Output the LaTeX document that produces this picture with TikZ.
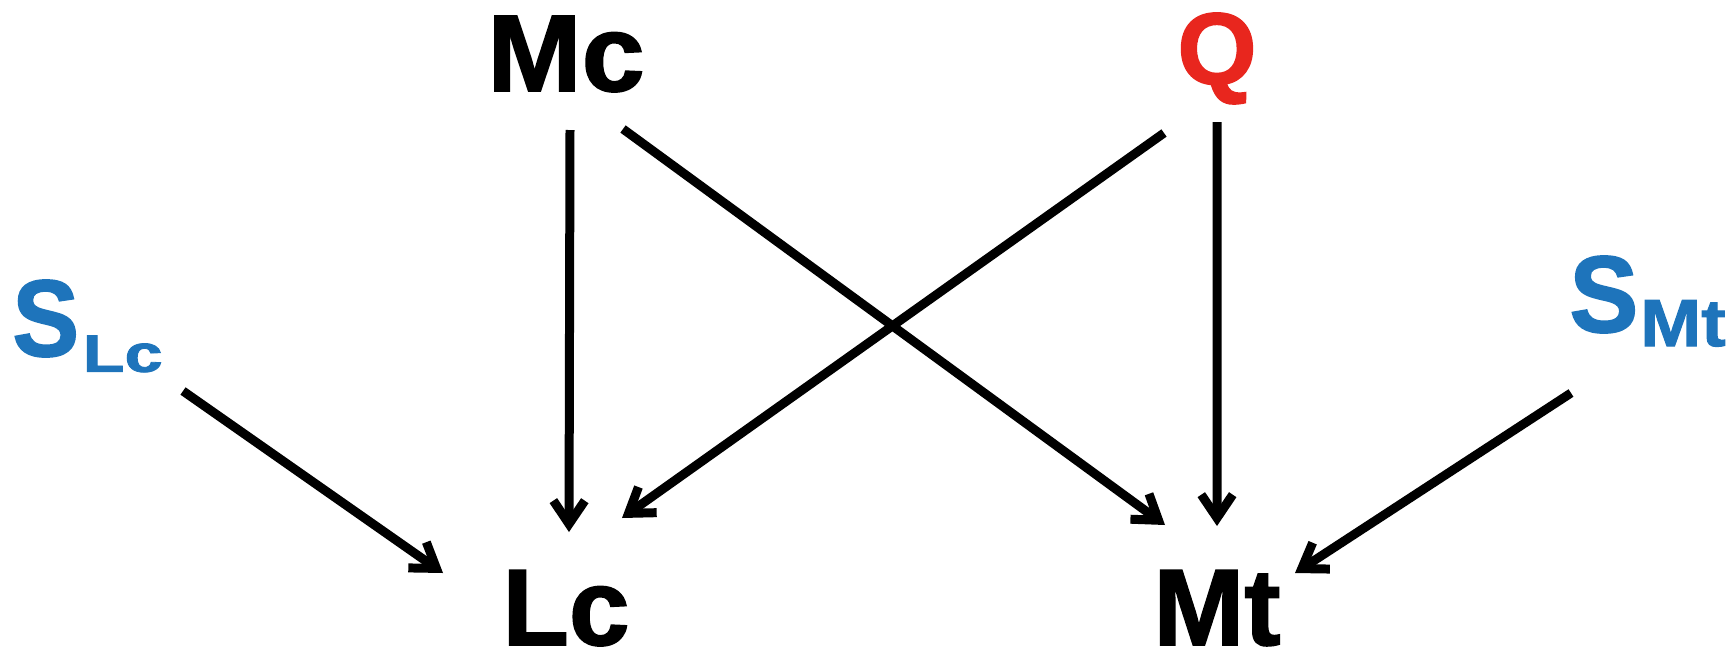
\documentclass[tikz,border=0pt]{standalone}
\usepackage{fontspec}
\setmainfont{Liberation Sans}[BoldFeatures={FakeBold=1.5}]
\usetikzlibrary{calc}
\definecolor{sblue}{RGB}{30,116,187}
\definecolor{qred}{RGB}{232,38,30}
% filled connector: #1 = start, #2 = tip (shaft + open V head, all filled)
\newcommand\arrowfill[2]{%
  \fill ($(#1)!2.56pt!90:(#2)$) -- ($(#1)!2.56pt!-90:(#2)$)
     -- ($(#2)!8.4pt!17.75:(#1)$) -- ($(#2)!8.4pt!-17.75:(#1)$) -- cycle;
  \fill (#2) -- ($(#2)!19.8pt!34:(#1)$) -- ($(#2)!20.44pt!19.52:(#1)$)
     -- ($(#2)!9.16pt!(#1)$) -- ($(#2)!20.44pt!-19.52:(#1)$)
     -- ($(#2)!19.8pt!-34:(#1)$) -- cycle;}
\begin{document}
\begin{tikzpicture}[x=0.02cm,y=0.02cm,
  lbl/.style={inner sep=0pt,font=\bfseries\fontsize{62}{62}\selectfont}]
\useasboundingbox (0,-653) rectangle (1735,0);
\node[lbl,anchor=base] (Mc) at (566,-91) {\scalebox{1.04}[1]{Mc}};
\node[lbl,anchor=base,text=qred] (Q) at (1217,-84) {\fontsize{58}{58}\selectfont Q};
\node[lbl,anchor=base] (Lc) at (566,-645) {Lc};
\node[lbl,anchor=base] (Mt) at (1217,-645) {Mt};
\node[lbl,anchor=base west,text=sblue] (SLc) at (12,-356) {\scalebox{0.92}[1]{S}\kern2pt\raisebox{-9pt}{\scalebox{1.3}[1]{\fontsize{30}{30}\selectfont Lc}}};
\node[lbl,anchor=base west,text=sblue] (SMt) at (1569,-332) {\scalebox{0.95}[1]{S}\kern1pt\raisebox{-8pt}{\scalebox{1.1}[1]{\fontsize{38}{38}\selectfont Mt}}};
% start and tip points of the connectors
\coordinate (a1s) at ([shift={(4,-39)}]Mc.base);
\coordinate (a1e) at ([shift={(3,113)}]Lc.base);
\coordinate (a2s) at ([shift={(57,-38)}]Mc.base);
\coordinate (a2e) at ([shift={(-52,120)}]Mt.base);
\coordinate (a3s) at ([shift={(-53,-49)}]Q.base);
\coordinate (a3e) at ([shift={(56,127)}]Lc.base);
\coordinate (a4s) at ([shift={(0,-38)}]Q.base);
\coordinate (a4e) at ([shift={(0,119)}]Mt.base);
\coordinate (a5s) at ([shift={(171,-35)}]SLc.base west);
\coordinate (a5e) at ([shift={(-123,72)}]Lc.base);
\coordinate (a6s) at ([shift={(2,-61)}]SMt.base west);
\coordinate (a6e) at ([shift={(78,72)}]Mt.base);
\foreach \i in {1,...,6}{\arrowfill{a\i s}{a\i e}}
\end{tikzpicture}
\end{document}
